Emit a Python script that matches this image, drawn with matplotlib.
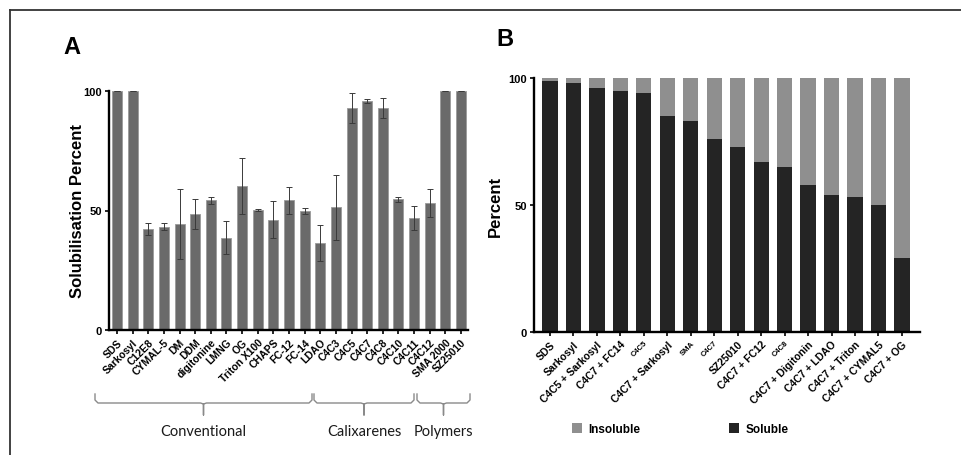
import matplotlib
matplotlib.use("Agg")
import matplotlib.pyplot as plt
from matplotlib.patches import Patch
import numpy as np

plt.rcParams['font.family'] = ['Liberation Sans', 'DejaVu Sans']

# ---------------- Panel A data ----------------
a_labels = ["SDS", "Sarkosyl", "C12E8", "CYMAL-5", "DM", "DDM", "digitonine", "LMNG", "OG",
            "Triton X100", "CHAPS", "FC-12", "FC-14", "LDAO", "C4C3", "C4C5", "C4C7", "C4C8",
            "C4C10", "C4C11", "C4C12", "SMA 2000", "SZ25010"]
a_values = [100, 100, 42.2, 43.3, 44.3, 48.7, 54.3, 38.7, 60.2, 50.1, 46.2, 54.3, 49.7,
            36.4, 51.4, 92.9, 95.8, 92.9, 54.7, 46.7, 53.2, 100, 100]
a_errors = [0, 0, 2.5, 1.5, 14.6, 6.3, 1.5, 6.8, 11.6, 0.4, 7.7, 5.6, 1.2,
            7.7, 13.6, 6.1, 1.0, 4.1, 1.0, 5.0, 5.8, 0, 0]
a_groups = ["Conventional", "Calixarenes", "Polymers"]

# ---------------- Panel B data ----------------
b_labels = ["SDS", "Sarkosyl", "C4C5 + Sarkosyl", "C4C7 + FC14", "C4C5", "C4C7 + Sarkosyl",
            "SMA", "C4C7", "SZ25010", "C4C7 + FC12", "C4C8", "C4C7 + Digitonin",
            "C4C7 + LDAO", "C4C7 + Triton", "C4C7 + CYMAL5", "C4C7 + OG"]
b_soluble = [99, 98, 96, 95, 94, 85, 83, 76, 73, 67, 65, 58, 54, 53, 50, 29]
b_insoluble = [1, 2, 4, 5, 6, 15, 17, 24, 27, 33, 35, 42, 46, 47, 50, 71]
b_small = ["C4C5", "SMA", "C4C7", "C4C8"]

W, H = 962, 456
fig = plt.figure(figsize=(W / 100, H / 100), dpi=100)


def ax_rect(x0, x1, ytop, ybot):
    return [x0 / W, (H - ybot) / H, (x1 - x0) / W, (ybot - ytop) / H]


def style_axes(ax):
    for s in ['top', 'right']:
        ax.spines[s].set_visible(False)
    for s in ['left', 'bottom']:
        ax.spines[s].set_linewidth(1.7)
        ax.spines[s].set_color('black')
    ax.tick_params(axis='both', direction='out', length=3, width=1.2, colors='black', pad=2)
    ax.set_ylim(0, 100)
    ax.set_yticks([0, 50, 100])
    for t in ax.get_yticklabels():
        t.set_fontweight('bold')
        t.set_fontsize(8)


# ---------------- Panel A ----------------
axA = fig.add_axes(ax_rect(109, 468, 92, 331))
xa = np.arange(len(a_labels))
axA.bar(xa, a_values, width=0.64, color='#6a6a6a', edgecolor='#9a9a9a', linewidth=0.6, zorder=2)
axA.errorbar(xa, a_values, yerr=a_errors, fmt='none',
             ecolor='#3a3a3a', elinewidth=0.7, capsize=2.5, capthick=0.7, zorder=3)
axA.set_xlim(-0.51, len(a_labels) - 0.55)
style_axes(axA)
axA.set_xticks(xa)
axA.set_xticklabels(a_labels, rotation=45, ha='right', rotation_mode='anchor',
                    fontsize=7.5, fontweight='bold')
axA.set_ylabel("Solubilisation Percent", fontsize=12, fontweight='bold', labelpad=-1)

# ---------------- Panel B ----------------
axB = fig.add_axes(ax_rect(534, 920, 79, 333))
xb = np.arange(len(b_labels))
axB.bar(xb, b_soluble, width=0.65, color='#242424', label='Soluble', zorder=2)
axB.bar(xb, b_insoluble, width=0.65, bottom=b_soluble, color='#8f8f8f', label='Insoluble', zorder=2)
axB.set_xlim(-0.68, len(b_labels) - 0.23)
style_axes(axB)
axB.set_xticks(xb)
axB.set_xticklabels(b_labels, rotation=45, ha='right', rotation_mode='anchor',
                    fontsize=7.5, fontweight='bold')
for t in axB.get_xticklabels():
    if t.get_text() in b_small:
        t.set_fontsize(5.5)
axB.set_ylabel("Percent", fontsize=12, fontweight='bold', labelpad=4)

handles = [Patch(facecolor='#8f8f8f', edgecolor='none'), Patch(facecolor='#242424', edgecolor='none')]
fig.legend(handles, ['Insoluble', 'Soluble'], loc='center', bbox_to_anchor=(680 / W, 1 - 430 / H),
           ncol=2, frameon=False, handlelength=0.9, handleheight=0.9, handletextpad=0.5,
           columnspacing=7.5, prop={'weight': 'bold', 'size': 8.5})

# ---------------- Overlay: border, panel letters, braces ----------------
ov = fig.add_axes([0, 0, 1, 1], zorder=-1)
ov.set_xlim(0, W)
ov.set_ylim(H, 0)
ov.axis('off')
ov.plot([10, W], [11, 11], color='#333333', lw=1.3)
ov.plot([10, 10], [11, H], color='#333333', lw=1.3)
ov.text(72, 47, "A", fontsize=17, fontweight='bold', ha='center', va='center')
ov.text(505, 40, "B", fontsize=17, fontweight='bold', ha='center', va='center')


def brace(x0, x1, ytop=395, ymid=404, ytip=416, r=3):
    xm = (x0 + x1) / 2
    xs = [x0, x0, x0 + r, xm - r, xm, xm, xm, xm + r, x1 - r, x1, x1]
    ys = [ytop, ymid - r, ymid, ymid, ymid + 1, ytip, ymid + 1, ymid, ymid, ymid - r, ytop]
    ov.plot(xs, ys, color='#8a8a8a', lw=1.0, solid_joinstyle='round')


brace_spans = [(95, 312), (314, 414), (417, 470)]
label_x = [203, 364, 443]
for (x0, x1), lx, name in zip(brace_spans, label_x, a_groups):
    brace(x0, x1)
    ov.text(lx, 432, name, fontsize=10.5, family=['Lato', 'DejaVu Sans'], ha='center', va='center',
            color='#1a1a1a')

fig.savefig("out.png", dpi=100)
